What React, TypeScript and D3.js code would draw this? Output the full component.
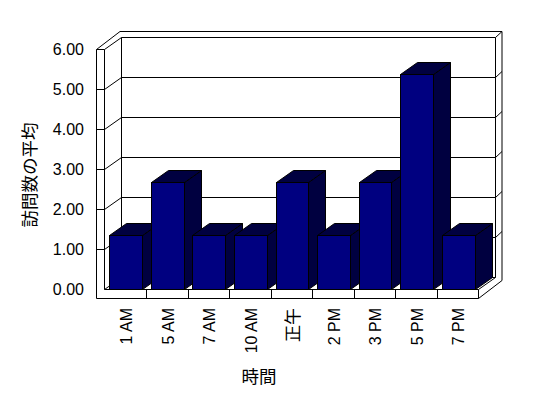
import React from "react";
import * as d3 from "d3";

const categories = ["1 AM", "5 AM", "7 AM", "10 AM", "正午", "2 PM", "3 PM", "5 PM", "7 PM"];
const visits = [1.36, 2.69, 1.36, 1.36, 2.69, 1.36, 2.69, 5.38, 1.36];
const yTicks = [0, 1, 2, 3, 4, 5, 6];
const yTitle = "訪問数の平均";
const xTitle = "時間";

const W = 548;
const H = 398;
const X0 = 104.5;
const X1 = 478.5;
const Y0 = 289.5;
const Y6 = 49.5;
const DX = 17;
const DY = -12;
const WL = 8; // left wall thickness
const FT = 9; // floor thickness
const BX = 6.5;
const BY = -6;

const NAVY = "#000080";
const SHADE = "#000040";
const num = "'Liberation Sans', Arial, sans-serif";
const cjk = "'Noto Sans CJK JP', 'Noto Sans', sans-serif";

export default function App() {
  const y = d3.scaleLinear().domain([0, 6]).range([Y0, Y6]);
  const band = d3.scaleBand<string>().domain(categories).range([X0, X1]).padding(0);
  const step = band.step();
  const barOff = step * 0.115;
  const barW = step * 0.79;

  const pts = (p: [number, number][]) => p.map((q) => q.join(",")).join(" ");

  const backL = X0 + DX;
  const backR = X1 + DX;

  return (
    <svg
      width={W}
      height={H}
      style={{ position: "absolute", left: 0, top: 0, background: "#fff" }}
    >
      <rect width={W} height={H} fill="#fff" />

      {/* walls outline */}
      <g fill="none" stroke="#000" strokeWidth={1}>
        <polygon
          fill="#fff"
          points={pts([
            [X0 - WL, FT + Y0],
            [X0 - WL, Y6],
            [X0 - WL + DX + BX, Y6 + DY + BY],
            [backR + BX, Y6 + DY + BY],
            [backR + BX, Y0 + FT + DY + BY],
            [X1, Y0 + FT],
          ])}
        />
        <line x1={X0 - WL} y1={Y6} x2={X0} y2={Y6} />
        <line x1={X0} y1={Y6} x2={X0} y2={Y0} />
        <polyline points={pts([[X0, Y6], [backL, Y6 + DY], [backR, Y6 + DY], [backR + BX, Y6 + DY + BY]])} />
        <line x1={backL} y1={Y6 + DY} x2={backL} y2={Y0 + DY} />
        <line x1={backR} y1={Y6 + DY} x2={backR} y2={Y0 + DY} />
        <polyline points={pts([[X0, Y0], [X1, Y0], [X1, Y0 + FT]])} />
        <polyline points={pts([[X0, Y0], [backL, Y0 + DY], [backR, Y0 + DY], [X1, Y0]])} />
        {yTicks.filter((t) => t > 0 && t < 6).map((t) => {
          const yy = y(t);
          return (
            <polyline
              key={t}
              points={pts([
                [X0 - WL, yy],
                [X0, yy],
                [backL, yy + DY],
                [backR, yy + DY],
                [backR + BX, yy + DY + BY],
              ])}
            />
          );
        })}
        {categories.slice(1).map((c) => {
          const xx = Math.round(band(c)!) + 0.5;
          return <line key={c} x1={xx} y1={Y0} x2={xx} y2={Y0 + FT} />;
        })}
      </g>

      {/* bars */}
      <g stroke="#000" strokeWidth={1} strokeLinejoin="miter">
        {categories.map((c, i) => {
          const bx0 = Math.round(band(c)! + barOff) + 0.5;
          const bx1 = Math.round(band(c)! + barOff + barW) + 0.5;
          const top = Math.round(y(visits[i])) + 0.5;
          return (
            <g key={c}>
              <polygon
                fill={SHADE}
                points={pts([[bx1, top], [bx1 + DX, top + DY], [bx1 + DX, Y0 + DY], [bx1, Y0]])}
              />
              <polygon
                fill={SHADE}
                points={pts([[bx0, top], [bx0 + DX, top + DY], [bx1 + DX, top + DY], [bx1, top]])}
              />
              <rect x={bx0} y={top} width={bx1 - bx0} height={Y0 - top} fill={NAVY} />
            </g>
          );
        })}
      </g>

      <g fontFamily={num} fontSize={16} fill="#000" textAnchor="end">
        {yTicks.map((t) => (
          <text key={t} x={84} y={y(t)} dy="0.36em">
            {t.toFixed(2)}
          </text>
        ))}
      </g>

      <g fontSize={16} fill="#000" textAnchor="end">
        {categories.map((c) => {
          const cx = band(c)! + step / 2 + 1;
          const isCjk = /[^\x00-\x7f]/.test(c);
          return (
            <text
              key={c}
              transform={`translate(${cx},308) rotate(-90)`}
              dy="0.36em"
              fontFamily={isCjk ? cjk : num}
              fontSize={isCjk ? 17 : 16}
            >
              {c}
            </text>
          );
        })}
      </g>

      <text
        transform="translate(28,175) rotate(-90)"
        textAnchor="middle"
        dominantBaseline="central"
        fontFamily={cjk}
        fontSize={17.5}
        fill="#000"
      >
        {yTitle}
      </text>
      <text
        x={259}
        y={375}
        textAnchor="middle"
        dominantBaseline="central"
        fontFamily={cjk}
        fontSize={17.5}
        fill="#000"
      >
        {xTitle}
      </text>
    </svg>
  );
}
